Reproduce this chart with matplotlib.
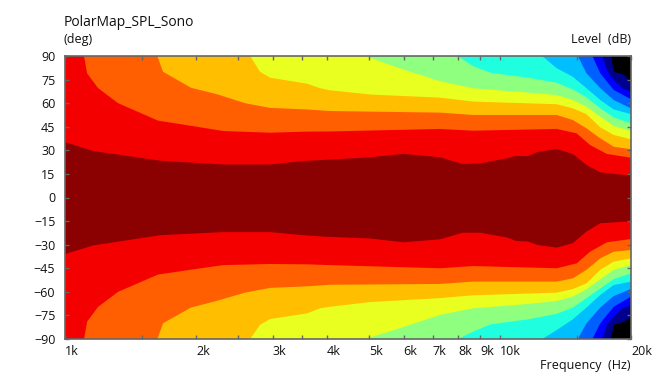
import numpy as np
import matplotlib
matplotlib.use('Agg')
import matplotlib.pyplot as plt

plt.rcParams['font.family'] = ['Open Sans', 'DejaVu Sans']

# contour boundaries: frequency (Hz) and angle on the +/- side, outermost colour is black
f_black = [18000, 18250, 19300, 20000]
up_black = [90, 80, 78, 72.6]
lo_black = [-90, -81, -79, -75.8]

f_navy = [17200, 17600, 18250, 19100, 20000]
up_navy = [90, 81, 74.7, 69.5, 67.3]
lo_navy = [-90, -81, -75.8, -70.5, -68.4]

f_blue = [16300, 17000, 18250, 20000]
up_blue = [90, 79, 68.4, 62.5]
lo_blue = [-90, -80, -69.5, -63]

f_azure = [15100, 15800, 17000, 18250, 20000]
up_azure = [90, 79, 69.5, 62, 56.7]
lo_azure = [-90, -80, -70, -62.7, -58.2]

f_sky = [12500, 13500, 14700, 15800, 17000, 18250, 20000]
up_sky = [90, 82.2, 76.8, 69.5, 62, 56, 53]
lo_sky = [-90, -84.3, -77.5, -70, -62, -55.7, -53.5]

f_cyan = [8000, 8660, 9500, 11600, 13500, 14700, 15800, 17000, 18250, 20000]
up_cyan = [90, 83.6, 79.4, 76.2, 73, 68.8, 63.7, 56.7, 51, 47.2]
lo_cyan = [-90, -85.4, -80.7, -77.5, -74, -70, -64, -57.8, -52, -48.2]

f_green = [4900, 5900, 7275, 8660, 10400, 11600, 13500, 14700, 15800, 17000, 18250, 20000]
up_green = [90, 82, 74, 69.5, 67.7, 66.7, 65.2, 62, 57.8, 51.4, 45.5, 42.3]
lo_green = [-90, -83, -74.7, -70.5, -68.8, -67.7, -65.8, -63, -58.4, -52, -46, -43]

f_yellow = [2664, 2807, 2960, 3602, 3856, 4062, 5028, 7275, 8660, 13500, 14700, 15800, 17000, 18250, 20000]
up_yellow = [90, 80, 76.2, 72.4, 69.5, 68.2, 65.5, 63.5, 61, 59.3, 56.7, 53, 44.6, 39.8, 37]
lo_yellow = [-90, -81, -77.3, -73.7, -70.5, -69.5, -66.5, -64, -62.2, -60.5, -58.2, -54.6, -46, -40.8, -38.7]

f_amber = [1630, 1680, 1948, 2235, 2593, 2960, 3602, 4062, 7275, 8660, 13500, 14700, 15800, 17000, 18250, 20000]
up_amber = [90, 80, 69.8, 65.7, 60, 57, 56, 55, 54, 52.5, 52.5, 49.3, 44, 37.6, 32.3, 30.7]
lo_amber = [-90, -80, -70, -65.7, -60.5, -57.5, -56.5, -55.5, -55, -53.5, -53.5, -51.4, -46, -38.7, -34.5, -33.4]

f_orange = [1106, 1124, 1191, 1324, 1636, 1938, 2308, 2960, 3602, 4062, 7275, 8660, 13500, 15000, 16100, 17600, 20000]
up_orange = [90, 79, 69.6, 60, 48.9, 45.7, 42.3, 41.2, 41.9, 42, 43.6, 42.5, 43.6, 40.8, 33.4, 27.7, 25.3]
lo_orange = [-90, -79, -69.6, -60, -49, -46, -43, -42.3, -42.5, -43, -45, -43.6, -45, -41.9, -34.5, -28.5, -26.4]

f_red = [1000, 1160, 1654, 2308, 2960, 3530, 4000, 5000, 6000, 7275, 8200, 9000, 10400, 10900, 11600, 12200, 13500, 14700, 15800, 17000, 19300, 20000]
up_red = [35.3, 29.6, 23.4, 21, 21, 23.2, 24, 25.5, 27.8, 25.6, 21.3, 21.7, 25, 26.4, 26.4, 29, 30.8, 27.7, 20.7, 16, 14.3, 14.3]
lo_red = [-36, -30.5, -24, -22, -22, -24, -25, -26, -28.5, -26.6, -22.4, -22.4, -25.5, -27.7, -28, -30.2, -31.9, -29, -21.7, -16.4, -15.4, -15.4]

boundaries = [
    (f_black, up_black, lo_black, '#00008F'),
    (f_navy, up_navy, lo_navy, '#0000FF'),
    (f_blue, up_blue, lo_blue, '#0060FF'),
    (f_azure, up_azure, lo_azure, '#00BFFF'),
    (f_sky, up_sky, lo_sky, '#1FFFE0'),
    (f_cyan, up_cyan, lo_cyan, '#8FFF80'),
    (f_green, up_green, lo_green, '#E8FF1F'),
    (f_yellow, up_yellow, lo_yellow, '#FFBF00'),
    (f_amber, up_amber, lo_amber, '#FF5F00'),
    (f_orange, up_orange, lo_orange, '#F50000'),
    (f_red, up_red, lo_red, '#8B0000'),
]

freq_ticks = [1000, 1500, 2000, 2500, 3000, 3500, 4000, 5000, 6000, 7000, 8000, 9000, 10000, 15000, 20000]
freq_labels = ['1k', '', '2k', '', '3k', '', '4k', '5k', '6k', '7k', '8k', '9k', '10k', '', '20k']
angle_ticks = list(range(-90, 91, 15))

W, H = 658, 374
fig = plt.figure(figsize=(W / 100, H / 100), dpi=100)
ax = fig.add_axes([65 / W, 1 - 339 / H, 566 / W, 283 / H])
ax.set_xscale('log')
ax.set_facecolor('black')

for f, up, lo, col in boundaries:
    xs = list(f) + list(f[::-1])
    ys = list(up) + list(lo[::-1])
    if f[0] > 1000:
        xs = [1000] + xs + [1000]
        ys = [90] + ys + [-90]
    ax.fill(xs, ys, color=col, linewidth=0)

ax.set_xlim(1000, 20000)
ax.set_ylim(-90, 90)
ax.minorticks_off()
ax.set_xticks(freq_ticks)
ax.set_xticklabels(freq_labels, ha='left')
ax.set_yticks(angle_ticks)
ax.tick_params(axis='x', which='major', direction='in', top=True, length=3, width=1, color='#666666',
               labelsize=9, pad=4, labelcolor='#111111')
ax.tick_params(axis='y', which='major', direction='in', right=True, length=3, width=1, color='#666666',
               labelsize=9, pad=7, labelcolor='#111111')
ax.tick_params(axis='x', which='minor', bottom=False)
for s in ax.spines.values():
    s.set_color('#666666')
    s.set_linewidth(1.2)

fig.text(64 / W, 1 - 26 / H, 'PolarMap_SPL_Sono', fontsize=10, color='#111111')
fig.text(64 / W, 1 - 43 / H, '(deg)', fontsize=9, color='#111111')
fig.text(631 / W, 1 - 43 / H, 'Level  (dB)', fontsize=9, ha='right', color='#111111')
fig.text(631 / W, 1 - 369 / H, 'Frequency  (Hz)', fontsize=9, ha='right', color='#111111')

plt.savefig('out.png', dpi=100)
